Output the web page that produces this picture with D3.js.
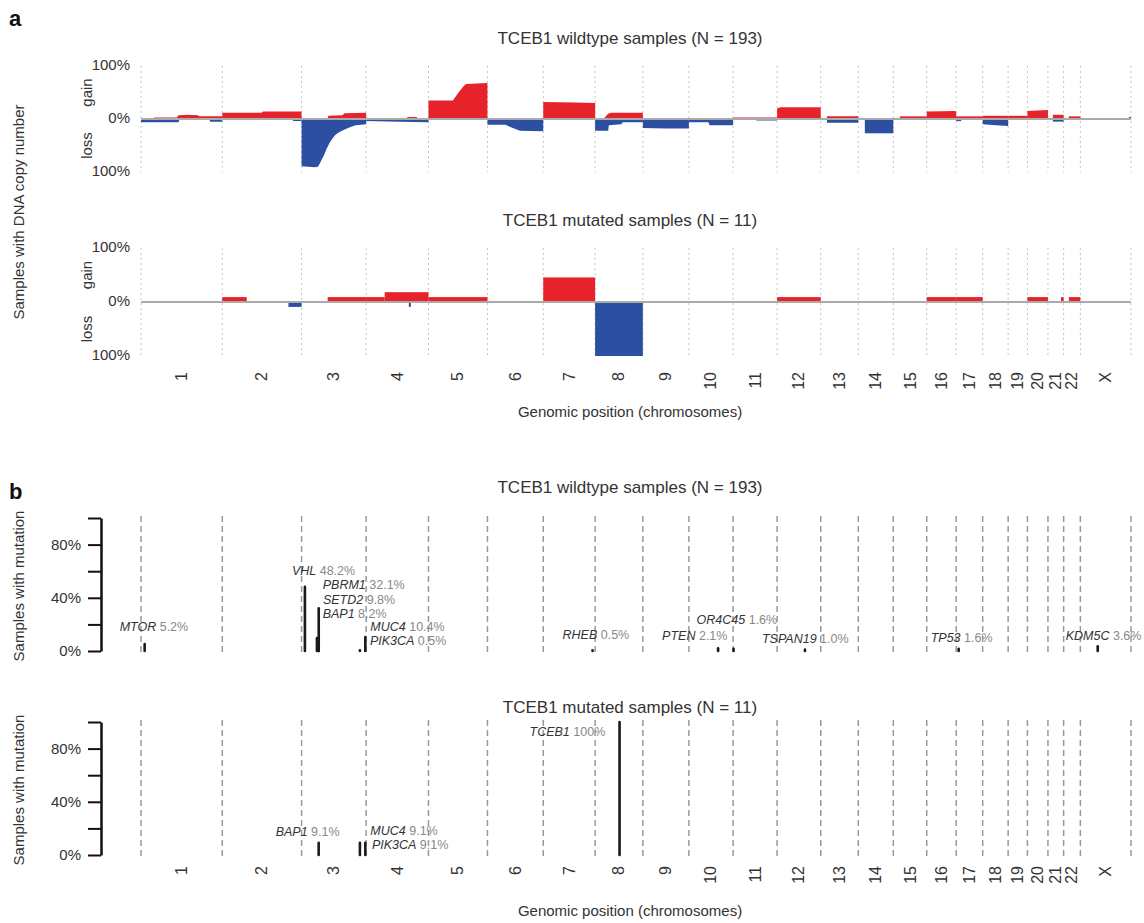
<!DOCTYPE html>
<html>
<head>
<meta charset="utf-8">
<script src="https://cdn.jsdelivr.net/npm/d3@7"></script>
<style>
  body { margin: 0; background: #fff; }
  text { font-family: "Liberation Sans", Arial, sans-serif; }
</style>
</head>
<body>
<svg id="chart" width="1144" height="923"></svg>
<script>
// chromosomes and their lengths (Mb)
const chromosomes = ["1", "2", "3", "4", "5", "6", "7", "8", "9", "10", "11", "12",
  "13", "14", "15", "16", "17", "18", "19", "20", "21", "22", "X"];
const chromLengthMb = [249.25, 243.2, 198.0, 191.15, 180.9, 171.1, 159.1, 146.4, 141.2,
  135.5, 135.0, 133.85, 115.2, 107.35, 102.5, 90.35, 81.2, 78.1, 59.1, 63.0, 48.1, 51.3, 155.3];

// wildtype copy number profile: [chromosome, position Mb, % samples]
const wtGainPoints = [
  ["1", 0, 2], ["1", 40, 2], ["1", 40, 3], ["1", 110, 3], ["1", 115, 7], ["1", 145, 8], ["1", 175, 7], ["1", 178, 5], ["1", 249.25, 5],
  ["2", 0, 12], ["2", 120, 12], ["2", 125, 14], ["2", 243.2, 14],
  ["3", 0, 0], ["3", 80, 0], ["3", 82, 6], ["3", 125, 7], ["3", 132, 11], ["3", 198, 12],
  ["4", 0, 1], ["4", 125, 1], ["4", 127, 4], ["4", 155, 4], ["4", 157, 1], ["4", 191.15, 1],
  ["5", 0, 35], ["5", 75, 35], ["5", 90, 48], ["5", 105, 60], ["5", 115, 66], ["5", 180.9, 68],
  ["6", 0, 1], ["6", 171.1, 1],
  ["7", 0, 32], ["7", 100, 31], ["7", 159.1, 30],
  ["8", 0, 0], ["8", 25, 0], ["8", 40, 10], ["8", 50, 12], ["8", 146.4, 12],
  ["9", 0, 0.5], ["9", 141.2, 0.5],
  ["10", 0, 0.5], ["10", 135.5, 0.5],
  ["11", 0, 3], ["11", 135, 3],
  ["12", 0, 20], ["12", 10, 22], ["12", 133.85, 22],
  ["13", 19, 5], ["13", 115.2, 5],
  ["15", 20, 5], ["15", 102.5, 5],
  ["16", 0, 14], ["16", 85, 15], ["16", 90.35, 14],
  ["17", 0, 5], ["17", 81.2, 5],
  ["18", 0, 6], ["18", 78.1, 6],
  ["19", 0, 6], ["19", 59.1, 6],
  ["20", 0, 15], ["20", 30, 16], ["20", 63, 17],
  ["21", 15, 8], ["21", 48.1, 8],
  ["22", 16, 5], ["22", 51.3, 5],
  ["X", 145, 0], ["X", 150, 4], ["X", 155.3, 4]
];
const wtLossPoints = [
  ["1", 0, 6], ["1", 115, 6], ["1", 118, 1], ["1", 210, 1], ["1", 212, 5], ["1", 249.25, 5],
  ["2", 0, 1], ["2", 215, 1], ["2", 218, 4], ["2", 243.2, 4],
  ["3", 0, 89], ["3", 40, 91], ["3", 50, 90], ["3", 56, 84], ["3", 62, 76], ["3", 69, 68],
  ["3", 77, 56], ["3", 86, 45], ["3", 95, 37], ["3", 103, 30], ["3", 115, 25], ["3", 132, 20],
  ["3", 150, 15], ["3", 166, 12], ["3", 198, 10],
  ["4", 0, 4], ["4", 100, 5], ["4", 191.15, 6],
  ["5", 0, 0.5], ["5", 180.9, 0.5],
  ["6", 0, 11], ["6", 55, 11], ["6", 70, 15], ["6", 90, 20], ["6", 100, 22], ["6", 171.1, 23],
  ["7", 0, 1], ["7", 159.1, 1],
  ["8", 0, 22], ["8", 40, 22], ["8", 42, 12], ["8", 80, 10], ["8", 85, 6], ["8", 146.4, 6],
  ["9", 0, 17], ["9", 70, 18], ["9", 141.2, 18],
  ["10", 0, 6], ["10", 60, 6], ["10", 63, 12], ["10", 135.5, 12],
  ["11", 0, 1], ["11", 70, 1], ["11", 72, 3], ["11", 135, 3],
  ["12", 0, 0.5], ["12", 133.85, 0.5],
  ["13", 19, 7], ["13", 115.2, 7],
  ["14", 20, 27], ["14", 107.35, 27],
  ["16", 0, 1], ["16", 90.35, 1],
  ["17", 0, 4], ["17", 15, 4],
  ["18", 0, 10], ["18", 40, 12], ["18", 78.1, 13],
  ["21", 15, 5], ["21", 48.1, 5]
];

// mutated copy number segments: [chromosome, start Mb, end Mb, % samples]
const mutGainSegments = [
  ["2", 0, 75, 9.1], ["3", 80, 198, 9.1], ["4", 0, 57, 9.1], ["4", 57, 191.15, 18.2],
  ["5", 0, 180.9, 9.1], ["7", 0, 159.1, 45.5], ["12", 0, 133.85, 9.1],
  ["16", 0, 90.35, 9.1], ["17", 0, 81.2, 9.1], ["20", 0, 63, 9.1],
  ["21", 40, 48.1, 9.1], ["22", 16, 51.3, 9.1]
];
const mutLossSegments = [
  ["2", 203, 243.2, 9.1], ["4", 131, 134, 9.1], ["8", 0, 146.4, 100]
];

// mutated genes: [gene, chromosome, position Mb, % samples]
const wtMutations = [
  ["MTOR", "1", 11.2, 5.2], ["VHL", "3", 10.2, 48.2], ["PBRM1", "3", 52.6, 32.1],
  ["SETD2", "3", 47.1, 9.8], ["BAP1", "3", 52.4, 8.2], ["MUC4", "3", 195.5, 10.4],
  ["PIK3CA", "3", 178.9, 0.5], ["RHEB", "7", 151.2, 0.5], ["PTEN", "10", 89.6, 2.1],
  ["OR4C45", "11", 1.5, 1.6], ["TSPAN19", "12", 85.4, 1.0], ["TP53", "17", 7.6, 1.6],
  ["KDM5C", "X", 53.2, 3.6]
];
const mutMutations = [
  ["TCEB1", "8", 74.9, 100], ["BAP1", "3", 52.4, 9.1], ["MUC4", "3", 195.5, 9.1],
  ["PIK3CA", "3", 178.9, 9.1]
];
// label placement relative to bar top (px), same order as above
const wtLabelNudge = [[-25, -16], [-13, -15], [4, -22], [6, -37], [4, -25], [5, -9], [10, -8],
  [-30, -14], [-56, -11], [-37, -28], [-43, -10], [-28, -10], [-32, -9]];
const mutLabelNudge = [[-90, 11], [-43, -10], [5, -11], [12, 3]];

const RED = "#e8222b";
const BLUE = "#2d4fa2";

const svg = d3.select("#chart");

const chromOffset = chromLengthMb.map((d, i) => d3.sum(chromLengthMb.slice(0, i)));
const genomeLength = d3.sum(chromLengthMb);
const bounds = [...chromOffset, genomeLength];

const x = d3.scaleLinear().domain([0, genomeLength]).range([141, 1131]);
const gx = (chr, pos) => x(chromOffset[chromosomes.indexOf(chr)] + pos);

function title(txt, y) {
  svg.append("text")
    .attr("x", 630).attr("y", y)
    .attr("text-anchor", "middle").attr("dominant-baseline", "middle")
    .attr("font-size", 17).attr("fill", "#333")
    .text(txt);
}

function chromLabels(yTop) {
  svg.append("g").selectAll("text")
    .data(chromosomes)
    .join("text")
    .attr("transform", (d, i) => `translate(${x(chromOffset[i] + chromLengthMb[i] / 2) + 5.5}, ${yTop}) rotate(-90)`)
    .attr("text-anchor", "end")
    .attr("font-size", 16).attr("fill", "#333")
    .text((d) => d);
}

function rotatedLabel(txt, cx, cy, size) {
  svg.append("text")
    .attr("transform", `translate(${cx}, ${cy}) rotate(-90)`)
    .attr("text-anchor", "middle").attr("dominant-baseline", "middle")
    .attr("font-size", size).attr("fill", "#333")
    .text(txt);
}

/* PANEL A: copy number */
function cnPanel(opts) {
  const yGain = d3.scaleLinear().domain([0, 100]).range([opts.zero, opts.zero - opts.half]);
  const yLoss = d3.scaleLinear().domain([0, 100]).range([opts.zero, opts.zero + opts.half]);
  const g = svg.append("g");

  title(opts.title, opts.titleY);

  // chromosome boundaries
  g.append("g").selectAll("line")
    .data(bounds)
    .join("line")
    .attr("x1", (d) => x(d)).attr("x2", (d) => x(d))
    .attr("y1", yGain(100)).attr("y2", yLoss(100))
    .attr("stroke", "#c4c4c4").attr("stroke-width", 1)
    .attr("stroke-dasharray", "2,3");

  if (opts.gainPoints) {
    const area = (ys) => d3.area()
      .x((d) => gx(d[0], d[1]))
      .y0(opts.zero)
      .y1((d) => ys(d[2]));
    d3.group(opts.gainPoints, (d) => d[0]).forEach((pts) => {
      g.append("path").datum(pts).attr("d", area(yGain)).attr("fill", RED);
    });
    d3.group(opts.lossPoints, (d) => d[0]).forEach((pts) => {
      g.append("path").datum(pts).attr("d", area(yLoss)).attr("fill", BLUE);
    });
  } else {
    g.append("g").selectAll("rect")
      .data(opts.gainSegments)
      .join("rect")
      .attr("x", (d) => gx(d[0], d[1]))
      .attr("width", (d) => gx(d[0], d[2]) - gx(d[0], d[1]))
      .attr("y", (d) => yGain(d[3]))
      .attr("height", (d) => opts.zero - yGain(d[3]))
      .attr("fill", RED);
    g.append("g").selectAll("rect")
      .data(opts.lossSegments)
      .join("rect")
      .attr("x", (d) => gx(d[0], d[1]))
      .attr("width", (d) => Math.max(2, gx(d[0], d[2]) - gx(d[0], d[1])))
      .attr("y", opts.zero)
      .attr("height", (d) => yLoss(d[3]) - opts.zero)
      .attr("fill", BLUE);
  }

  // zero line
  g.append("line")
    .attr("x1", x(0)).attr("x2", x(genomeLength))
    .attr("y1", opts.zero).attr("y2", opts.zero)
    .attr("stroke", "#aaa").attr("stroke-width", 2);

  // y labels
  const ticks = [[yGain(100), "100%"], [opts.zero, "0%"], [yLoss(100), "100%"]];
  g.append("g").selectAll("text")
    .data(ticks)
    .join("text")
    .attr("x", 130).attr("y", (d) => d[0])
    .attr("text-anchor", "end").attr("dominant-baseline", "middle")
    .attr("font-size", 15).attr("fill", "#333")
    .text((d) => d[1]);

  rotatedLabel("gain", 88, (yGain(100) + opts.zero) / 2, 15);
  rotatedLabel("loss", 88, (yLoss(100) + opts.zero) / 2, 15);
}

cnPanel({
  title: "TCEB1 wildtype samples (N = 193)", titleY: 40,
  zero: 119, half: 53,
  gainPoints: wtGainPoints, lossPoints: wtLossPoints
});
cnPanel({
  title: "TCEB1 mutated samples (N = 11)", titleY: 222,
  zero: 302, half: 54,
  gainSegments: mutGainSegments, lossSegments: mutLossSegments
});
chromLabels(372);
rotatedLabel("Samples with DNA copy number", 20, 212, 15);
svg.append("text")
  .attr("x", 630).attr("y", 413)
  .attr("text-anchor", "middle").attr("dominant-baseline", "middle")
  .attr("font-size", 15).attr("fill", "#333")
  .text("Genomic position (chromosomes)");

/* PANEL B: mutations */
function mutPanel(opts) {
  const y = d3.scaleLinear().domain([0, 100]).range([opts.zero, opts.zero - 133]);
  const g = svg.append("g");

  title(opts.title, opts.titleY);

  g.append("g").selectAll("line")
    .data(bounds)
    .join("line")
    .attr("x1", (d) => x(d)).attr("x2", (d) => x(d))
    .attr("y1", y(100) - 2).attr("y2", y(0) + 5)
    .attr("stroke", "#999").attr("stroke-width", 1.5)
    .attr("stroke-dasharray", "6,4");

  const axis = g.append("g")
    .attr("transform", "translate(101,0)")
    .call(d3.axisLeft(y)
      .tickValues([0, 20, 40, 60, 80, 100])
      .tickSize(13).tickSizeOuter(0).tickPadding(7)
      .tickFormat((d) => (d % 40 === 0 && d < 100 ? d + "%" : "")));
  axis.select(".domain").attr("stroke", "#111").attr("stroke-width", 2.5);
  axis.selectAll(".tick line").attr("stroke", "#111").attr("stroke-width", 2);
  axis.selectAll(".tick text")
    .attr("font-size", 15).attr("fill", "#333")
    .attr("font-family", "Liberation Sans, Arial, sans-serif");

  g.append("g").selectAll("line")
    .data(opts.mutations)
    .join("line")
    .attr("x1", (d) => gx(d[1], d[2])).attr("x2", (d) => gx(d[1], d[2]))
    .attr("y1", y(0)).attr("y2", (d) => y(d[3]))
    .attr("stroke", "#1a1a1a").attr("stroke-width", 2.6)
    .attr("stroke-linecap", "round");

  const labels = g.append("g").selectAll("text")
    .data(opts.mutations)
    .join("text")
    .attr("x", (d, i) => gx(d[1], d[2]) + opts.nudge[i][0])
    .attr("y", (d, i) => y(d[3]) + opts.nudge[i][1])
    .attr("dominant-baseline", "middle")
    .attr("font-size", 12.5);
  labels.append("tspan")
    .attr("font-style", "italic").attr("fill", "#333")
    .text((d) => d[0]);
  labels.append("tspan")
    .attr("fill", "#888")
    .text((d) => " " + (d[3] === 100 ? "100" : d[3].toFixed(1)) + "%");

  rotatedLabel("Samples with mutation", 20, opts.zero - 65, 15);
}

mutPanel({
  title: "TCEB1 wildtype samples (N = 193)", titleY: 489,
  zero: 651, mutations: wtMutations, nudge: wtLabelNudge
});
mutPanel({
  title: "TCEB1 mutated samples (N = 11)", titleY: 709,
  zero: 855, mutations: mutMutations, nudge: mutLabelNudge
});
chromLabels(866);
svg.append("text")
  .attr("x", 630).attr("y", 912)
  .attr("text-anchor", "middle").attr("dominant-baseline", "middle")
  .attr("font-size", 15).attr("fill", "#333")
  .text("Genomic position (chromosomes)");

// panel letters
svg.append("text").attr("x", 9).attr("y", 26)
  .attr("font-size", 22).attr("font-weight", "bold").attr("fill", "#111").text("a");
svg.append("text").attr("x", 9).attr("y", 499)
  .attr("font-size", 22).attr("font-weight", "bold").attr("fill", "#111").text("b");
</script>
</body>
</html>
